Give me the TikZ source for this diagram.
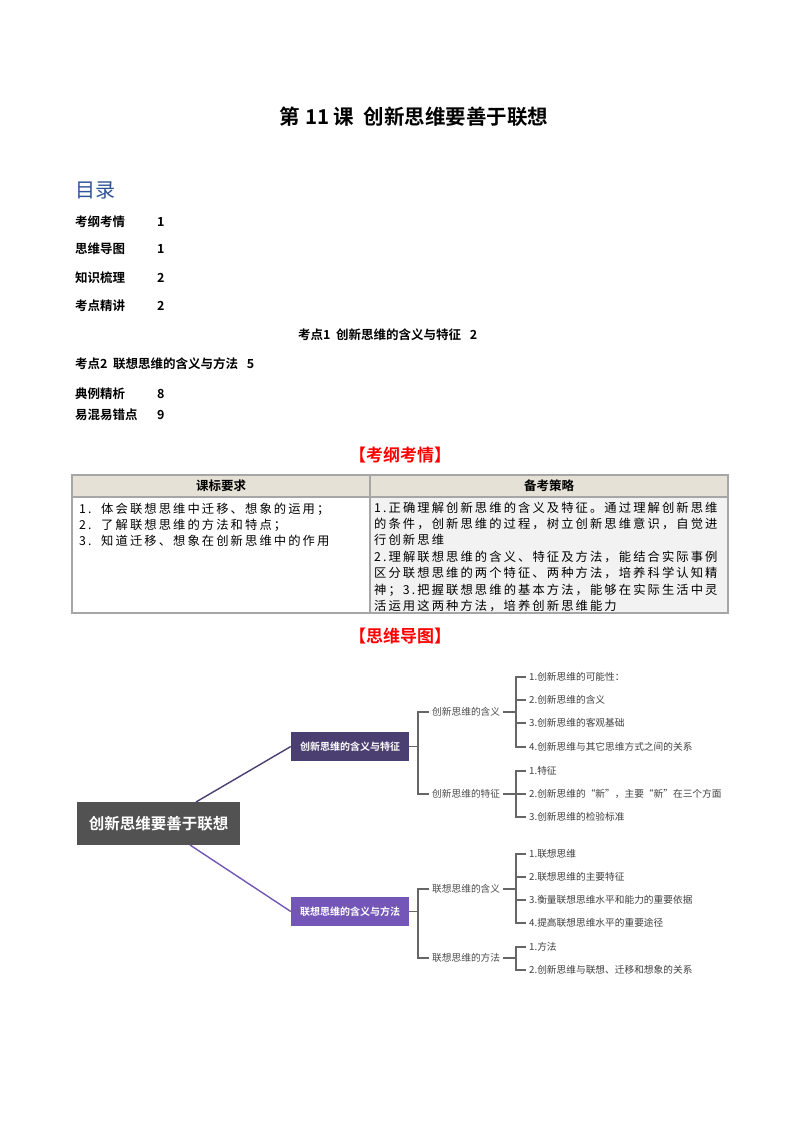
\documentclass[tikz,border=0pt]{standalone}
\usepackage{fontspec}
\setmainfont{Noto Sans CJK SC}
\newfontfamily\cjkb[BoldFont={Noto Sans CJK SC Bold}]{Noto Sans CJK SC Bold}
\newfontfamily\tbf[LetterSpace=17]{Noto Sans CJK SC}
\begin{document}
\begin{tikzpicture}[x=1pt,y=-1pt,
  toc/.style={anchor=west,inner sep=0,font=\cjkb\fontsize{12.5}{13}\selectfont},
  red/.style={text=red,font=\cjkb\fontsize{17}{18}\selectfont,inner sep=0},
  tl/.style={anchor=west,inner sep=0,font=\tbf\fontsize{12.3}{13}\selectfont},
  lbl/.style={anchor=west,inner sep=0,text=black!70,font=\fontsize{9.7}{10}\selectfont},
  itm/.style={anchor=west,inner sep=0,text=black!75,font=\fontsize{9.7}{10}\selectfont},
  ln/.style={draw=black!60,line width=1.1pt},
  br/.style={line width=1.4pt}]
\useasboundingbox[fill=white] (0,0) rectangle (800,1132);
\node[inner sep=0,font=\cjkb\fontsize{20.5}{21}\selectfont] (title) at (414,117) {第 11 课\ \ 创新思维要善于联想};
\node[anchor=west,inner sep=0,text={rgb,255:red,47;green,84;blue,150},font=\fontsize{20}{21}\selectfont] (ml) at (75,190) {目录};
\node[toc] (t1) at (75,222) {考纲考情}; \node[toc] (n1) at (157,222) {1};
\node[toc] (t2) at (75,249) {思维导图}; \node[toc] (n2) at (157,249) {1};
\node[toc] (t3) at (75,278) {知识梳理}; \node[toc] (n3) at (157,278) {2};
\node[toc] (t4) at (75,306) {考点精讲}; \node[toc] (n4) at (157,306) {2};
\node[toc] (t5) at (298,335) {考点1\ \ 创新思维的含义与特征\ \ \ 2};
\node[toc] (t6) at (75,364) {考点2\ \ 联想思维的含义与方法\ \ \ 5};
\node[toc] (t7) at (75,394) {典例精析}; \node[toc] (n7) at (157,394) {8};
\node[toc] (t8) at (75,415) {易混易错点}; \node[toc] (n8) at (157,415) {9};
\node[red] (h1) at (400,455) {【考纲考情】};
% table
\fill[fill={rgb,255:red,230;green,225;blue,214}] (72,475) rectangle (728,497);
\fill[black!5] (370,497) rectangle (728,613);
\draw[black!35,line width=1.2pt] (72,475) rectangle (728,613) (72,497)--(728,497) (370,475)--(370,613);
\node[inner sep=0,font=\cjkb\fontsize{12.5}{13}\selectfont] (c1) at (221,486) {课标要求};
\node[inner sep=0,font=\cjkb\fontsize{12.5}{13}\selectfont] (c2) at (549,486) {备考策略};
\node[tl] (l1) at (79,509) {1.\ \ 体会联想思维中迁移、想象的运用；};
\node[tl] (l2) at (79,525) {2.\ \ 了解联想思维的方法和特点；};
\node[tl] (l3) at (79,541) {3.\ \ 知道迁移、想象在创新思维中的作用};
\node[tl] (r1) at (374,508) {1.正确理解创新思维的含义及特征。通过理解创新思维};
\node[tl] (r2) at (374,524) {的条件，创新思维的过程，树立创新思维意识，自觉进};
\node[tl] (r3) at (374,540) {行创新思维};
\node[tl] (r4) at (374,557) {2.理解联想思维的含义、特征及方法，能结合实际事例};
\node[tl] (r5) at (374,573) {区分联想思维的两个特征、两种方法，培养科学认知精};
\node[tl] (r6) at (374,590) {神；3.把握联想思维的基本方法，能够在实际生活中灵};
\node[tl] (r7) at (374,606) {活运用这两种方法，培养创新思维能力};
\node[red] (h2) at (400,636) {【思维导图】};
% mind map
\node[fill=black!68,text=white,minimum width=163,minimum height=43,inner sep=0,font=\cjkb\fontsize{15.5}{16}\selectfont] (root) at (158.5,823.5) {创新思维要善于联想};
\node[fill={rgb,255:red,75;green,63;blue,114},text=white,minimum width=118,minimum height=29,inner sep=0,font=\cjkb\fontsize{10}{11}\selectfont] (b1) at (350,746.5) {创新思维的含义与特征};
\node[fill={rgb,255:red,115;green,86;blue,184},text=white,minimum width=118,minimum height=29,inner sep=0,font=\cjkb\fontsize{10}{11}\selectfont] (b2) at (350,911.5) {联想思维的含义与方法};
\draw[draw={rgb,255:red,75;green,63;blue,114},br] (196,802) -- (b1.west);
\draw[draw={rgb,255:red,115;green,86;blue,184},br] (190,845) -- (b2.west);
% branch 1
\node[lbl] (s1) at (432,712) {创新思维的含义};
\node[lbl] (s2) at (432,794) {创新思维的特征};
\draw[ln] (b1.east) -- (418,746.5);
\draw[ln] (s1.west)++(-3,0) -| (418,794) -- ([xshift=-3]s2.west);
\node[itm] (a1) at (529,677) {1.创新思维的可能性：};
\node[itm] (a2) at (529,700) {2.创新思维的含义};
\node[itm] (a3) at (529,723) {3.创新思维的客观基础};
\node[itm] (a4) at (529,747) {4.创新思维与其它思维方式之间的关系};
\draw[ln] ([xshift=3]s1.east) -- (516,712);
\draw[ln] ([xshift=-3]a1.west) -| (516,747) -- ([xshift=-3]a4.west);
\draw[ln] (516,700) -- ([xshift=-3]a2.west) (516,723) -- ([xshift=-3]a3.west);
\node[itm] (e1) at (529,771) {1.特征};
\node[itm] (e2) at (529,794) {2.创新思维的“新”，主要“新”在三个方面};
\node[itm] (e3) at (529,817) {3.创新思维的检验标准};
\draw[ln] ([xshift=3]s2.east) -- ([xshift=-3]e2.west);
\draw[ln] ([xshift=-3]e1.west) -| (516,817) -- ([xshift=-3]e3.west);
% branch 2
\node[lbl] (s3) at (432,889) {联想思维的含义};
\node[lbl] (s4) at (432,958) {联想思维的方法};
\draw[ln] (b2.east) -- (418,911.5);
\draw[ln] (s3.west)++(-3,0) -| (418,958) -- ([xshift=-3]s4.west);
\node[itm] (f1) at (529,854) {1.联想思维};
\node[itm] (f2) at (529,877) {2.联想思维的主要特征};
\node[itm] (f3) at (529,900) {3.衡量联想思维水平和能力的重要依据};
\node[itm] (f4) at (529,923) {4.提高联想思维水平的重要途径};
\draw[ln] ([xshift=3]s3.east) -- (516,889);
\draw[ln] ([xshift=-3]f1.west) -| (516,923) -- ([xshift=-3]f4.west);
\draw[ln] (516,877) -- ([xshift=-3]f2.west) (516,900) -- ([xshift=-3]f3.west);
\node[itm] (g1) at (529,947) {1.方法};
\node[itm] (g2) at (529,970) {2.创新思维与联想、迁移和想象的关系};
\draw[ln] ([xshift=3]s4.east) -- (516,958);
\draw[ln] ([xshift=-3]g1.west) -| (516,970) -- ([xshift=-3]g2.west);
\end{tikzpicture}
\end{document}
